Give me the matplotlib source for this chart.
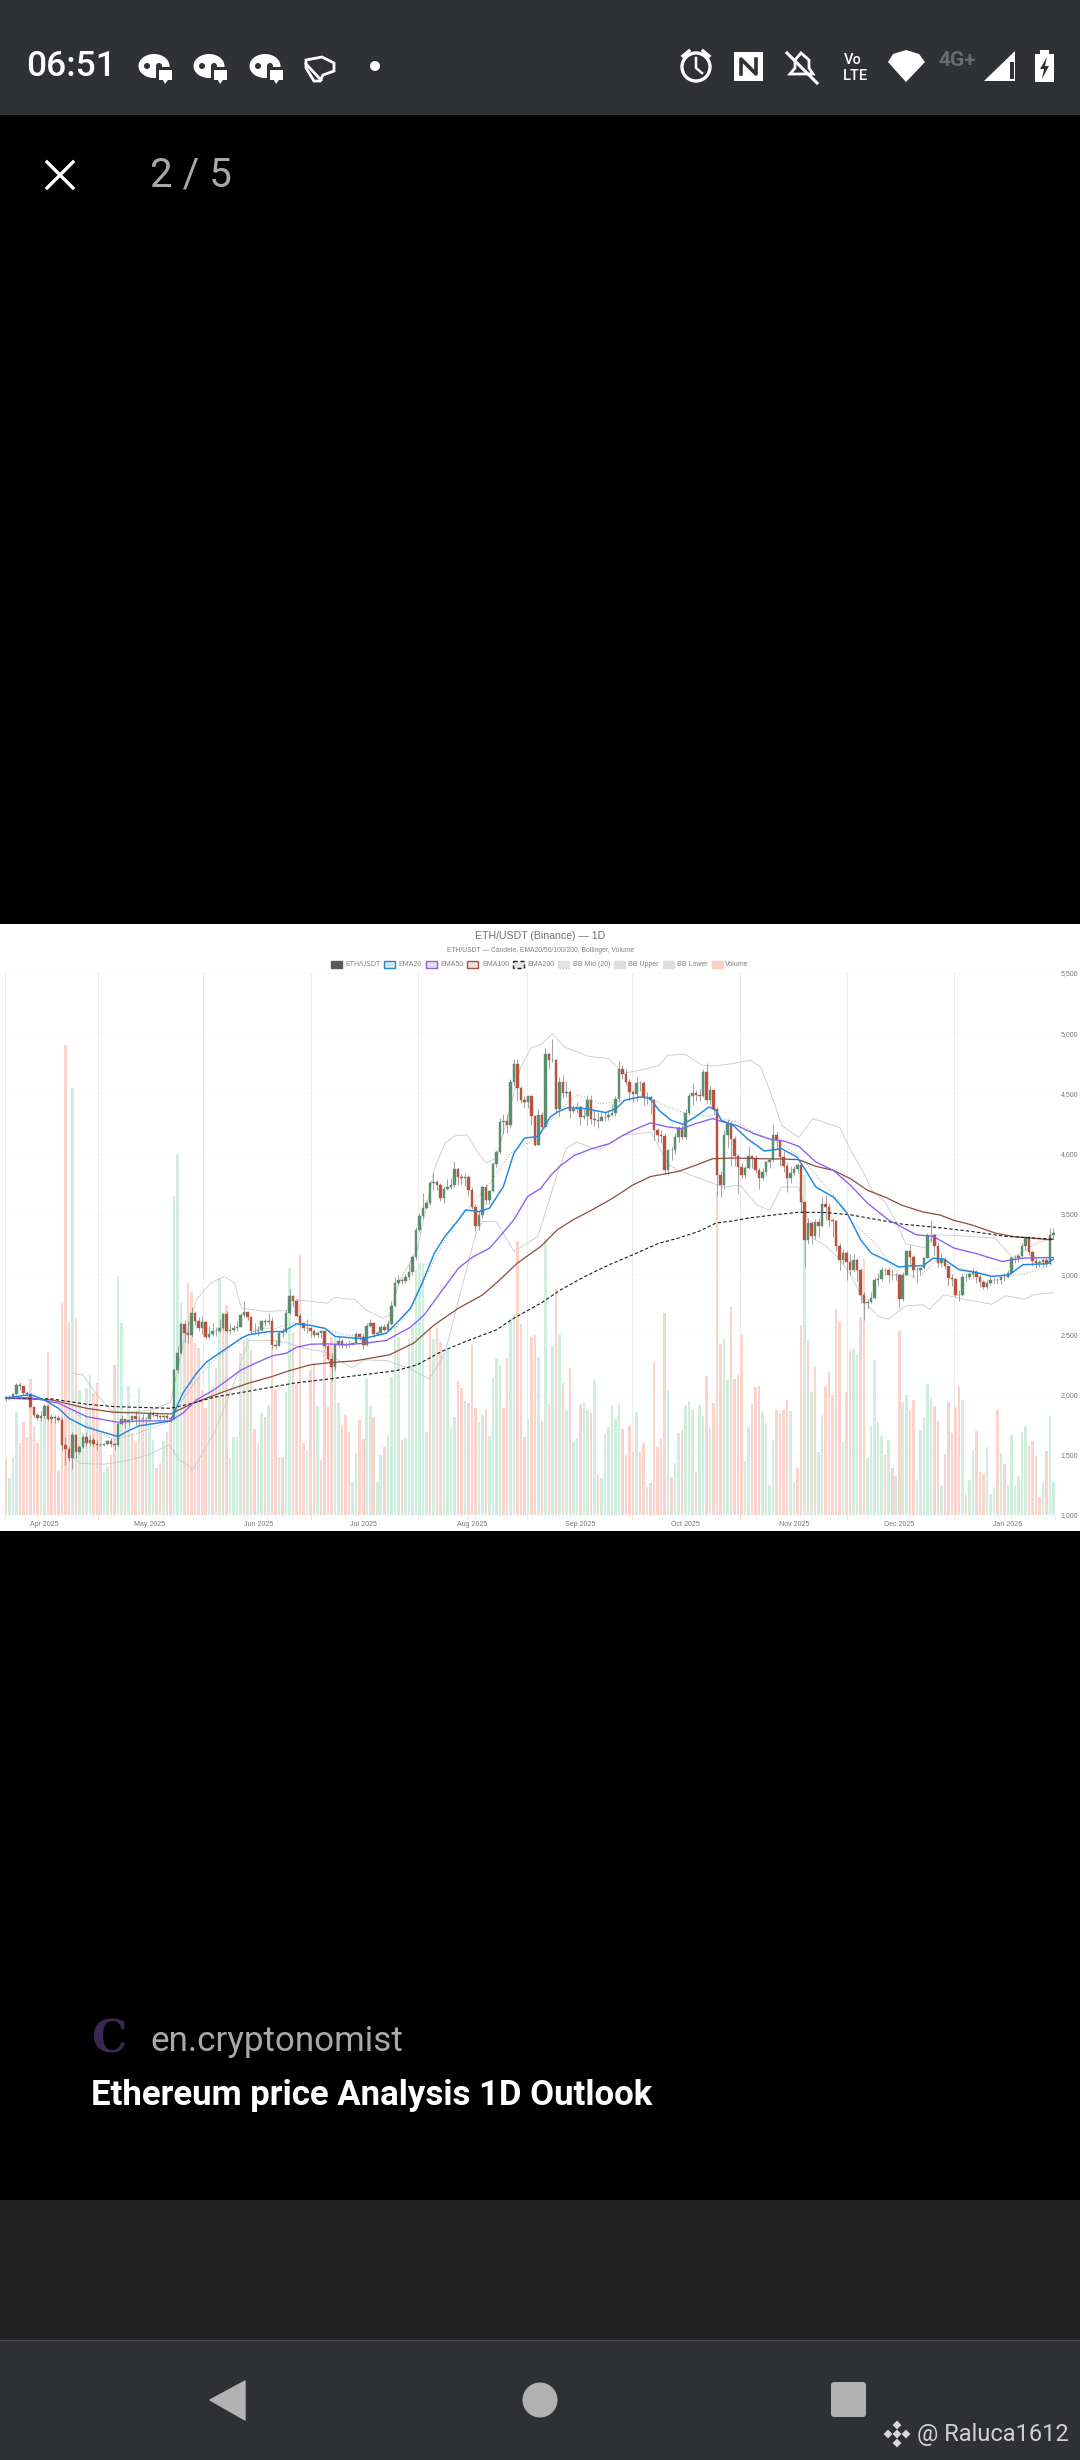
import matplotlib
matplotlib.use("Agg")
import matplotlib.pyplot as plt
from matplotlib.patches import Rectangle, Polygon, Ellipse, Circle, FancyBboxPatch

# ---------- DATA ----------
closes = [1965,1982,2005,2080,2067,2012,2003,1897,1828,1805,
1822,1905,1795,1816,1806,1785,1580,1552,1472,1668,
1522,1566,1645,1595,1625,1590,1578,1582,1590,1612,
1587,1578,1755,1795,1768,1785,1820,1795,1800,1795,
1793,1840,1832,1825,1815,1818,1808,1800,2205,2345,
2585,2515,2495,2680,2610,2550,2600,2480,2505,2525,
2530,2550,2670,2530,2535,2550,2565,2660,2685,2640,
2530,2530,2535,2610,2605,2610,2415,2405,2510,2520,
2680,2820,2775,2650,2590,2555,2550,2525,2495,2510,
2525,2405,2295,2225,2410,2445,2415,2420,2418,2430,
2505,2480,2410,2570,2590,2500,2510,2565,2540,2585,
2735,2925,2950,2945,2975,3020,3140,3370,3480,3547,
3589,3755,3762,3742,3630,3705,3725,3740,3871,3805,
3800,3805,3700,3561,3400,3492,3722,3616,3686,3915,
4010,4265,4270,4235,4591,4746,4544,4447,4430,4480,
4309,4073,4325,4222,4831,4776,4776,4368,4596,4507,
4510,4355,4374,4388,4305,4310,4443,4291,4277,4275,
4305,4305,4320,4338,4457,4706,4665,4596,4512,4493,
4587,4585,4471,4471,4443,4194,4152,4150,3867,4028,
4028,4139,4216,4139,4341,4479,4507,4490,4479,4679,
4443,4526,4368,3820,3737,4152,4244,4125,3978,3889,
3825,3884,3978,3965,3867,3801,3848,3931,3950,4152,
4116,3972,3895,3801,3842,3870,3903,3598,3285,3424,
3313,3430,3400,3579,3560,3446,3440,3230,3115,3174,
3097,3030,3119,3030,2830,2764,2768,2800,2953,2958,
3030,3030,2995,2990,2990,2795,2994,3194,3141,3030,
3030,3050,3133,3321,3321,3235,3091,3125,3064,2967,
2958,2828,2830,2980,2980,3000,3014,2972,2931,2889,
2925,2947,2947,2947,2975,2980,3008,3130,3130,3152,
3230,3310,3180,3110,3090,3097,3119,3086,3327,3340]

opens = [1983,1965,1982,2005,2080,2067,2012,2003,1897,1828,
1805,1822,1905,1795,1816,1806,1785,1580,1552,1472,
1668,1522,1566,1645,1595,1625,1590,1578,1582,1590,
1612,1587,1578,1755,1795,1768,1785,1820,1795,1800,
1795,1793,1840,1832,1825,1815,1818,1808,1800,2205,
2345,2585,2515,2495,2680,2610,2550,2600,2480,2505,
2525,2530,2550,2670,2530,2535,2550,2565,2660,2685,
2640,2530,2530,2535,2610,2605,2610,2415,2405,2510,
2520,2680,2820,2775,2650,2590,2555,2550,2525,2495,
2510,2525,2405,2295,2225,2410,2445,2415,2420,2418,
2430,2505,2480,2410,2570,2590,2500,2510,2565,2540,
2585,2735,2925,2950,2945,2975,3020,3140,3370,3480,
3547,3589,3755,3762,3742,3630,3705,3725,3740,3871,
3805,3800,3805,3700,3561,3400,3492,3722,3616,3686,
3915,4010,4265,4270,4235,4591,4746,4544,4447,4430,
4480,4309,4073,4325,4222,4831,4776,4776,4368,4596,
4507,4510,4355,4374,4388,4305,4310,4443,4291,4277,
4275,4305,4305,4320,4338,4457,4706,4665,4596,4512,
4493,4587,4585,4471,4471,4443,4194,4152,4150,3867,
4028,4028,4139,4216,4139,4341,4479,4507,4490,4479,
4679,4443,4526,4368,3820,3737,4152,4244,4125,3978,
3889,3825,3884,3978,3965,3867,3801,3848,3931,3950,
4152,4116,3972,3895,3801,3842,3870,3903,3598,3285,
3424,3313,3430,3400,3579,3560,3446,3440,3230,3115,
3174,3097,3030,3119,3030,2830,2764,2768,2800,2953,
2958,3030,3030,2995,2990,2990,2795,2994,3194,3141,
3030,3030,3050,3133,3321,3321,3235,3091,3125,3064,
2967,2958,2828,2830,2980,2980,3000,3014,2972,2931,
2889,2925,2947,2947,2947,2975,2980,3008,3130,3130,
3152,3230,3310,3180,3110,3090,3097,3119,3086,3327]

highs = [1990,1995,2015,2095,2105,2075,2030,2010,1905,1845,
1860,1925,1915,1840,1830,1830,1810,1645,1575,1690,
1675,1585,1665,1690,1665,1650,1620,1600,1600,1625,
1640,1600,1770,1830,1800,1800,1830,1860,1830,1840,
1815,1875,1860,1855,1830,1830,1835,1825,2215,2400,
2600,2620,2610,2725,2690,2640,2650,2610,2570,2590,
2560,2630,2680,2695,2590,2580,2610,2680,2780,2690,
2650,2590,2570,2620,2630,2680,2640,2450,2530,2550,
2700,2880,2830,2790,2680,2590,2630,2560,2545,2530,
2540,2530,2420,2345,2430,2495,2465,2440,2450,2440,
2520,2510,2510,2590,2625,2600,2525,2580,2585,2620,
2780,2980,2990,2970,3000,3080,3160,3390,3510,3670,
3610,3770,3850,3780,3760,3730,3790,3800,3940,3880,
3830,3840,3820,3720,3580,3530,3740,3750,3700,3930,
4030,4300,4330,4330,4620,4790,4785,4560,4480,4490,
4490,4320,4370,4350,4880,4840,4950,4790,4640,4650,
4600,4530,4400,4430,4400,4370,4490,4490,4370,4350,
4350,4350,4360,4410,4480,4770,4740,4700,4620,4530,
4640,4600,4600,4510,4490,4450,4210,4200,4170,4030,
4060,4170,4230,4240,4370,4500,4590,4530,4540,4700,
4750,4560,4530,4390,3860,4200,4290,4270,4150,4000,
3920,3900,4060,3990,3990,3880,3880,3940,3960,4250,
4190,4125,4020,3920,3900,3900,3920,3920,3600,3470,
3440,3460,3470,3640,3660,3590,3470,3450,3260,3210,
3190,3170,3170,3130,3050,2850,2790,2850,2980,3010,
3060,3050,3060,3040,3010,3000,3020,3200,3240,3160,
3060,3060,3140,3340,3447,3330,3260,3175,3140,3070,
3000,2970,2870,3000,3010,3020,3050,3030,3000,2950,
2950,2980,2980,2965,2995,3010,3030,3150,3160,3170,
3255,3310,3315,3190,3140,3120,3135,3140,3380,3385]

lows = [1945,1955,1975,2000,2035,1995,1985,1885,1810,1785,
1780,1800,1780,1765,1760,1770,1535,1415,1450,1385,
1470,1505,1555,1570,1575,1575,1540,1570,1570,1585,
1565,1540,1570,1750,1720,1745,1770,1745,1740,1770,
1745,1785,1810,1800,1790,1790,1785,1770,1795,2180,
2340,2440,2430,2480,2580,2530,2500,2460,2470,2490,
2490,2510,2540,2510,2500,2520,2530,2560,2640,2620,
2500,2500,2490,2530,2570,2580,2380,2380,2470,2480,
2510,2670,2730,2640,2560,2530,2510,2480,2480,2480,
2470,2385,2290,2110,2205,2395,2390,2390,2395,2410,
2430,2450,2375,2400,2560,2475,2495,2500,2525,2530,
2580,2730,2910,2920,2930,2950,2990,3120,3350,3460,
3540,3570,3700,3700,3610,3590,3700,3710,3720,3740,
3750,3730,3650,3540,3360,3370,3470,3580,3580,3680,
3890,4000,4160,4170,4210,4560,4440,4420,4380,4380,
4240,4060,4070,4210,4220,4700,4760,4340,4310,4460,
4470,4300,4340,4340,4240,4290,4240,4250,4230,4210,
4280,4270,4280,4310,4310,4430,4620,4570,4440,4430,
4440,4520,4400,4410,4330,4110,4100,4090,3820,3820,
3950,4000,4100,4120,4120,4325,4400,4440,4440,4470,
4410,4410,4320,3650,3640,3710,4050,3900,3900,3673,
3800,3800,3870,3880,3840,3710,3780,3820,3880,3930,
4030,3900,3850,3680,3760,3820,3840,3510,3060,3250,
3250,3290,3310,3390,3450,3400,3310,3190,3030,3080,
2950,2990,3020,2940,2760,2620,2710,2760,2790,2900,
2940,2990,2930,2950,2950,2720,2780,2990,3070,2970,
2930,2990,3040,3130,3270,3160,3060,3060,3040,2900,
2900,2810,2775,2820,2940,2960,2970,2930,2890,2880,
2880,2910,2920,2915,2920,2940,2970,3000,3090,3100,
3140,3200,3160,3070,3050,3060,3060,3060,3080,3300]

volumes = [170,110,173,310,215,278,235,407,268,215,
295,295,488,285,295,133,637,1410,580,1280,
592,375,245,380,420,365,397,245,130,145,
180,450,717,577,285,387,245,220,382,295,
285,285,225,140,155,222,250,275,957,1083,
637,545,695,670,515,500,375,322,465,385,
440,710,585,630,170,235,235,485,525,530,
495,257,215,305,295,330,505,375,173,175,
370,740,550,395,780,215,195,435,455,327,
165,535,325,535,535,335,270,300,248,100,
185,285,228,410,327,295,100,180,205,240,
415,565,535,225,230,530,560,735,755,755,
248,565,527,560,520,485,495,265,295,403,
380,342,335,510,320,280,300,317,237,410,
470,450,322,470,590,602,823,573,235,287,
535,540,475,
282,830,333,507,678,543,395,315,442,222,
230,333,340,315,307,405,123,110,242,263,
330,287,332,257,180,268,190,310,190,215,
85,95,460,205,230,605,375,113,157,247,
255,330,342,315,130,330,298,418,260,337,
969,513,527,405,625,407,419,540,163,265,
333,385,387,310,277,90,225,315,307,315,
345,311,100,140,570,1020,525,368,444,190,
300,388,429,360,619,579,220,370,495,497,
480,593,767,172,267,465,278,237,179,225,
141,118,552,340,359,315,345,105,255,295,
393,352,327,283,90,182,338,247,324,387,
345,60,105,195,252,128,123,205,63,85,
315,185,152,89,240,87,117,248,268,208,
223,178,54,96,193,297,99]

volume_side = ("rgggrrrrrr" "ggrrrrrrrg" "rgrggrrrgg" "rrggrgrrgr" "rggrrgrrgg"
 "grrrrrrrgr" "rgrrggggrg" "rrggrgrrgr" "ggrrrrgrrg" "rrrrggrrrg"
 "grrggrggrg" "gggrgggggg" "grgrrggggr" "rgrrrggrgg" "ggrrggrrrg" "rrg"
 "rgrgrgrgrg" "grggrgrggg" "gggrrrrgrr" "grrrrrgrgg" "rgggrggrgr"
 "rrggrrrrgg" "rrrggggrrr" "rggrrgrgrg" "grrrrrgrrg" "grrgggggrg"
 "rgrggrrggg" "ggrrgrrrrr" "grggrrrggg" "rgrggggggr" "rrrgrgg")

ema20_idx = [0,7,11,15,18,23,32,35,38,43,47,50.5,54.4,57.4,62.3,67.2,69.2,75,79,83,
87,91,94,102,108.6,111.5,115.5,118.4,122.3,125.3,129.2,131.2,135,138,142,145,148,152,155.4,157.4,
160.4,165.3,171.2,174.2,176.6,181,184,186.4,189.9,193.3,196.8,200.7,202.7,204.2,207.6,211.6,216.5,221.4,225.8,228.3,
231.2,236.2,240.1,244,247,251,254.9,257.8,261.8,264.7,267.7,272.1,276.5,281.4,286.4,290.3,297.2,299]
ema20_val = [1970,2000,1955,1886,1803,1729,1651,1700,1740,1762,1781,2011,2177,2274,2371,2468,2496,2523,2523,2587,
2573,2551,2482,2463,2510,2593,2717,2897,3174,3313,3451,3533,3519,3547,3727,4004,4129,4143,4305,4346,
4382,4374,4341,4374,4443,4471,4457,4360,4277,4244,4305,4388,4360,4277,4235,4125,4022,4041,3972,3861,
3723,3640,3506,3285,3174,3119,3058,3069,3069,3133,3125,3036,3017,2981,2994,3078,3086,3125]

ema50_idx = [0,7,15,23,32,38,47,50.5,54.4,59.4,63.3,67.2,71.2,76,80,83,87,91.8,96.8,102.7,108.6,111.5,115.5,119.4,124.3,129.2,133.2,138.1,141,145,148.9,152.7,
155.5,158.4,162.3,167.3,172.2,176.1,180,184,188.9,192.9,196.8,201.7,204.7,208.6,213.5,218.4,222.4,226.3,231.2,236.2,241.1,246,251.9,259.8,264.7,270.6,276.5,284.4,290.3,299]
ema50_val = [1970,1975,1928,1817,1770,1781,1781,1845,1956,2039,2122,2205,2260,2321,2343,2393,2418,2421,2413,2427,2449,2496,2559,2662,2856,3050,3141,3216,3313,3451,3644,3713,
3820,3903,3986,4042,4083,4152,4208,4255,4222,4208,4249,4291,4263,4235,4166,4119,4102,4061,3931,3861,3737,3587,3451,3327,3313,3216,3174,3105,3133,3138]

ema100_idx = [0,13,23,30.8,47,53.4,62.3,69.2,76,81,86.9,92.8,99.7,109.5,116.4,122.3,129.2,136.1,141,146,152.7,
157.4,161.9,167.3,173.2,179,184,191.9,196.8,201.7,207.6,215.5,221.4,226.3,231.2,236.2,241.1,246,250.9,255.8,261.8,266.7,270.6,275.5,282.4,287.3,298.2,299]
ema100_val = [1970,1956,1886,1853,1839,1928,2025,2094,2150,2199,2247,2266,2280,2330,2427,2579,2717,2828,2953,3092,3230,
3368,3451,3533,3630,3741,3810,3852,3903,3958,3964,3958,3956,3950,3895,3861,3792,3695,3640,3571,3516,3490,3446,3410,3341,3313,3285,3290]

ema200_idx = [0,13,23,30.8,47,53.4,59.4,67.2,74.1,82,91.8,101.7,111.5,117.4,124.3,131.2,140,145,152.7,
158.4,165.3,172.2,179,186,191.9,197.8,202.7,207.6,211.6,219.4,226.3,234.2,241.1,249,255.8,265.7,275.5,285.4,298.2,299]
ema200_val = [1970,1964,1920,1900,1886,1928,1978,2017,2053,2094,2128,2163,2199,2247,2357,2440,2537,2634,2759,
2870,2981,3078,3161,3252,3299,3355,3424,3442,3464,3492,3514,3511,3492,3451,3415,3388,3355,3313,3291,3290]

bbmid_idx = [20,23.9,30.8,37.7,42.6,47,50.5,54.4,59.4,63.3,67.2,72.1,77,82,86.9,91.8,96.8,102.7,107.6,111.5,115.5,120.4,125.3,129.2,133.2,138.1,144,148.9,
152.5,158.4,163.3,169.2,174.2,182,188.9,193.8,201.7,208.6,216.5,221.4,227.3,234.2,239.1,241,248,254.9,260.8,265.7,270.6,276.5,284.4,291.3,299]
bbmid_val = [1845,1735,1623,1679,1734,1775,1956,2122,2288,2385,2468,2551,2551,2593,2579,2538,2496,2476,2496,2565,2704,3008,3285,3451,3589,3755,4004,4087,
4166,4374,4493,4415,4429,4485,4388,4338,4305,4263,4125,4083,3958,3723,3561,3451,3257,2994,2980,3119,3058,3022,2967,3008,3078]

bbup_idx = [19,22,24.9,29.8,32.8,41.6,47,50.5,54.4,58.4,62.3,65.3,67.2,74.1,80,83,91.8,93.8,99.7,102.7,107.6,109.5,112.5,117.4,
122.3,125.3,128.2,131.7,134.2,137.1,140,143,147,149.9,152.7,
156,159.4,164.3,166.3,172.2,176.1,181,186.5,188.9,193.8,198.8,201.7,207.6,212.5,215.5,219.4,221.4,226.3,230.3,238.1,241.1,245,247,250.9,253.9,254.9,256.8,262.7,264.7,270.6,282.4,287.3,294.2,299]
bbup_val = [2177,2163,2039,1872,1850,1872,1934,2410,2787,2925,2980,2925,2717,2690,2698,2787,2759,2806,2787,2704,2634,2662,2953,3200,
3874,4087,4148,4156,4032,3921,3963,4280,4723,4877,4904,
4997,4886,4831,4809,4789,4665,4693,4734,4817,4825,4734,4728,4748,4776,4720,4415,4235,4133,4291,4216,4028,3834,3700,3600,3446,3382,3252,3216,3327,3321,3299,3133,3258,3299]

bblow_idx = [19,21,27.9,34.8,40.6,46.6,49.5,53.4,59.4,66.2,69.2,76,80,84.9,90.8,98.7,102.7,108.6,115.5,120.9,125.3,130.2,134.2,136.1,140,145,151.9,
154.5,157.4,159.9,162.8,169.2,176.1,184,186,188.9,191.9,204.7,209.6,214.5,218,221.4,226.3,230.3,
234.2,238.1,241.1,245,249,251.9,256.8,261.8,263.7,267.7,274.5,281.4,285.4,290.8,293.3,299]
bblow_val = [1485,1429,1421,1452,1499,1582,1457,1380,1679,2177,2449,2449,2432,2385,2357,2224,2288,2282,2213,2127,2343,2897,3341,3437,3437,3188,3313,
3561,3834,4042,4097,4028,4152,4180,4083,3917,3861,3723,3737,3571,3529,3723,3723,3299,
3230,3119,2994,2773,2648,2626,2737,2745,2709,2828,2786,2750,2820,2792,2828,2848]

price_ticks = [1000,1500,2000,2500,3000,3500,4000,4500,5000,5500]
month_labels = ["Apr 2025","May 2025","Jun 2025","Jul 2025","Aug 2025","Sep 2025","Oct 2025","Nov 2025","Dec 2025","Jan 2026"]
month_pos = [11,41,72,102,133,164,194,225,255,286]
grid_pos = [-0.3,26.2,56.4,87,117.7,148.7,178.8,209.5,240.1,270.7,299.4]
legend_labels = ["ETH/USDT","EMA20","EMA50","EMA100","EMA200","BB Mid (20)","BB Upper","BB Lower","Volume"]

# ---------- FIGURE ----------
UI = "Roboto"
CH = "Liberation Sans"
fig = plt.figure(figsize=(10.8, 24.6), dpi=100, facecolor="black")
bg = fig.add_axes([0, 0, 1, 1], zorder=0)
bg.set_xlim(0, 1080); bg.set_ylim(2460, 0); bg.axis("off")

def R(x, y, w, h, **k):
    bg.add_patch(Rectangle((x, y), w, h, **k))

R(0, 0, 1080, 115, fc="#303135", ec="none")
R(0, 924, 1080, 607, fc="white", ec="none")
R(0, 2200, 1080, 140, fc="#212121", ec="none")
R(0, 2340, 1080, 120, fc="#2f3034", ec="none")
bg.plot([0, 1080], [2340, 2340], color="#4b4c50", lw=1)

# status bar
bg.text(26, 67, "06:51", color="white", fontsize=25.5, family=UI, weight="medium", va="center", ha="left")
def blob(x):
    bg.add_patch(Ellipse((x+15, 66), 31, 24, fc="white", ec="none"))
    bg.add_patch(Circle((x+8, 66), 3, fc="#303135", ec="none"))
    bg.add_patch(Circle((x+20, 66), 3, fc="#303135", ec="none"))
    R(x+17, 67, 16, 13, fc="#303135", ec="none")
    R(x+20, 70, 13, 10, fc="white", ec="none")
    bg.add_patch(Polygon([[x+24, 80], [x+29, 80], [x+26, 84]], fc="white", ec="none"))
for bx in (139, 194, 250):
    blob(bx)
bg.add_patch(Polygon([[306, 60], [322, 57], [334, 63], [334, 71], [323, 75], [320, 81], [314, 81], [306, 68]], fc="none", ec="white", lw=2))
bg.plot([306, 321], [64, 80], color="white", lw=2)
bg.add_patch(Circle((375, 66), 5, fc="white", ec="none"))
bg.add_patch(Circle((696, 67), 14, fc="none", ec="white", lw=2.4))
bg.plot([696, 696, 702], [58, 68, 73], color="white", lw=1.8)
bg.plot([683, 689], [56, 51], color="white", lw=2.4); bg.plot([703, 709], [51, 56], color="white", lw=2.4)
R(734, 52, 29, 29, fc="white", ec="none")
bg.plot([741, 741, 756, 756], [74, 59, 74, 59], color="#303135", lw=2.6)
bg.add_patch(Polygon([[790, 74], [795, 68], [795, 60], [801, 53], [809, 60], [809, 68], [813, 74]], fc="none", ec="white", lw=2))
bg.plot([787, 817], [53, 83], color="white", lw=2.2)
bg.text(853, 60, "Vo", color="white", fontsize=10.5, family=UI, weight="medium", ha="center", va="center")
bg.text(855, 76, "LTE", color="white", fontsize=10.5, family=UI, weight="medium", ha="center", va="center")
bg.add_patch(Polygon([[906, 82], [888, 62], [893, 54], [906, 50], [919, 54], [925, 62]], fc="white", ec="none"))
bg.text(957, 60, "4G+", color="#6a6b6e", fontsize=15, family=UI, weight="bold", ha="center", va="center")
bg.add_patch(Polygon([[984, 81], [1015, 51], [1015, 81]], fc="white", ec="none"))
R(1010, 62, 4, 17, fc="#303135", ec="none")
R(1035, 54, 19, 28, fc="white", ec="none"); R(1040, 50, 9, 5, fc="white", ec="none")
bg.add_patch(Polygon([[1047, 57], [1040, 69], [1044, 69], [1042, 79], [1049, 66], [1045, 66]], fc="#303135", ec="none"))

# viewer header
bg.plot([47, 73], [162, 188], color="white", lw=2.4); bg.plot([47, 73], [188, 162], color="white", lw=2.4)
bg.text(150, 175, "2 / 5", color="#a8a8a8", fontsize=29, family=UI, va="center", ha="left")

# chart headings
bg.text(540, 936, "ETH/USDT (Binance) \u2014 1D", color="#707070", fontsize=7.6, family=CH, ha="center", va="center")
bg.text(541, 951, "ETH/USDT \u2014 Candele, EMA20/50/100/200, Bollinger, Volume", color="#808080", fontsize=4.85, family=CH, ha="center", va="center")
sw_x = [331, 384, 426, 467, 513, 558, 614, 663, 712]
lb_x = [345, 398, 440, 482, 527, 573, 628, 677, 725]
sw_style = [dict(fc="#5a5a5a", ec="#5a5a5a"), dict(fc="#e4e4e4", ec="#1e88e5", lw=1), dict(fc="#e4e4e4", ec="#8b5cf6", lw=1),
            dict(fc="#e4e4e4", ec="#a5523f", lw=1), dict(fc="#e4e4e4", ec="#222222", lw=1, ls=(0, (3, 2))),
            dict(fc="#e4e4e4", ec="#c0c0c0", lw=0.8, ls=":"), dict(fc="#dfdfdf", ec="#dfdfdf"), dict(fc="#dfdfdf", ec="#dfdfdf"),
            dict(fc="#f9cfc8", ec="#f9cfc8")]
for sx, lx, st, lab in zip(sw_x, lb_x, sw_style, legend_labels):
    R(sx, 960.5, 10.5, 7, **st)
    bg.text(lx, 964, lab, color="#808080", fontsize=5, family=CH, ha="left", va="center")

# chart axes
rect = [4.15/1080, 1-1515/2460, 1051/1080, 542/2460]
ax = fig.add_axes(rect, zorder=1, facecolor="none")
ax.set_xlim(-0.5, 299.5); ax.set_ylim(1000, 5500)
for s in ax.spines.values():
    s.set_visible(False)
ax.yaxis.tick_right()
ax.set_yticks(price_ticks)
ax.set_yticklabels([f"{p:,}" for p in price_ticks], fontsize=5, color="#777777", family=CH)
ax.tick_params(axis="y", length=0, pad=4)
ax.set_xticks(month_pos)
ax.set_xticklabels(month_labels, fontsize=5, color="#777777", family=CH)
ax.tick_params(axis="x", length=0, pad=4)
ax.hlines(price_ticks, -0.5, 299.5, color="#e9e9e9", lw=0.5, ls=":", zorder=1)
ax.vlines(grid_pos, 1000, 5500, color="#ececec", lw=0.7, zorder=1)
ax.vlines(grid_pos, 1000, 960, color="#e6e6e6", lw=0.7, zorder=1, clip_on=False)

axv = fig.add_axes(rect, zorder=2, facecolor="none")
axv.set_xlim(-0.5, 299.5); axv.set_ylim(0, 1626); axv.axis("off")
vcol = ["#f9d3cc" if c == "r" else "#cfeedd" for c in volume_side]
axv.bar(range(len(volumes)), volumes, width=0.72, color=vcol, linewidth=0)

axc = fig.add_axes(rect, zorder=3, facecolor="none")
axc.set_xlim(-0.5, 299.5); axc.set_ylim(1000, 5500); axc.axis("off")
axc.plot(bbup_idx, bbup_val, color="#c9c9c9", lw=0.6, zorder=2)
axc.plot(bblow_idx, bblow_val, color="#c9c9c9", lw=0.6, zorder=2)
axc.plot(bbmid_idx, bbmid_val, color="#aaaaaa", lw=0.6, ls=(0, (1.5, 2)), zorder=2)
xs = list(range(len(closes)))
axc.vlines(xs, lows, highs, color="#8a8a8a", lw=0.55, zorder=3)
cc = ["#5b8d70" if c >= o else "#b9533d" for o, c in zip(opens, closes)]
axc.bar(xs, [c-o for o, c in zip(opens, closes)], bottom=opens, width=0.72, color=cc, edgecolor=cc, linewidth=0.3, zorder=4)
axc.plot(ema100_idx, ema100_val, color="#8f4c3c", lw=0.9, zorder=5)
axc.plot(ema200_idx, ema200_val, color="#1a1a1a", lw=0.8, ls=(0, (3, 2)), zorder=5)
axc.plot(ema50_idx, ema50_val, color="#8b5cf6", lw=0.95, zorder=6)
axc.plot(ema20_idx, ema20_val, color="#1e88e5", lw=1.05, zorder=7)

# caption
bg.text(91, 2040, "C", color="#3a2850", fontsize=32, family="DejaVu Serif", weight="bold", ha="left", va="center")
bg.text(150, 2042, "en.cryptonomist", color="#a8a8a8", fontsize=25.2, family=UI, ha="left", va="center")
bg.text(91, 2095, "Ethereum price Analysis 1D Outlook", color="white", fontsize=25, family=UI, weight="bold", ha="left", va="center")

# nav bar
bg.add_patch(Polygon([[210, 2400], [245, 2381], [245, 2420]], fc="#b2b2b2", ec="#b2b2b2", lw=1, joinstyle="round"))
bg.add_patch(Circle((540, 2400), 17.5, fc="#b2b2b2", ec="none"))
bg.add_patch(FancyBboxPatch((833, 2384), 31, 31, boxstyle="round,pad=2,rounding_size=3", fc="#b2b2b2", ec="none"))
for dx, dy in [(0, -9), (-9, 0), (9, 0), (0, 9), (0, 0)]:
    s = 4.4
    bg.add_patch(Polygon([[897+dx, 2434+dy-s], [897+dx+s, 2434+dy], [897+dx, 2434+dy+s], [897+dx-s, 2434+dy]], fc="#d8d8d8", ec="none"))
bg.text(917, 2434, "@ Raluca1612", color="#d0d0d0", fontsize=17, family=UI, ha="left", va="center")

fig.savefig("out.png", dpi=100, facecolor="black")
